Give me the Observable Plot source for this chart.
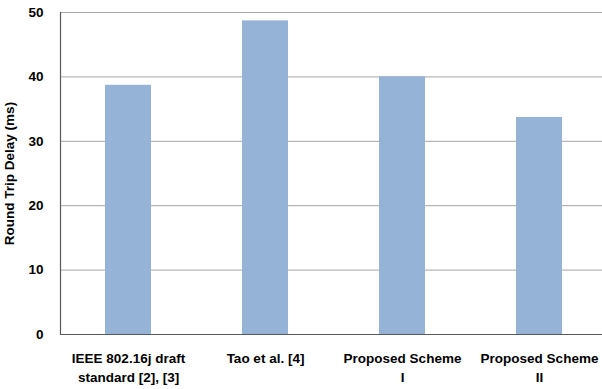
<!DOCTYPE html>
<html>
<head>
<meta charset="utf-8">
<script src="https://cdn.jsdelivr.net/npm/d3@7"></script>
<script src="https://cdn.jsdelivr.net/npm/@observablehq/plot@0.6"></script>
<style>
  html, body { margin: 0; padding: 0; background: #fff; }
</style>
</head>
<body>
<div id="chart"></div>
<script>
const categories = ["IEEE 802.16j draft\nstandard [2], [3]", "Tao et al. [4]", "Proposed Scheme\nI", "Proposed Scheme\nII"];
const delays = [38.7, 48.7, 40.0, 33.7];
const yTicks = [0, 10, 20, 30, 40, 50];
const gridTicks = [10, 20, 30, 40, 50];
const yTitle = "Round Trip Delay (ms)";

const data = categories.map((c, i) => ({category: c, delay: delays[i]}));

const chart = Plot.plot({
  width: 602,
  height: 389,
  marginTop: 12,
  marginBottom: 55,
  marginLeft: 60,
  marginRight: 0,
  style: {fontFamily: "'Liberation Sans', Arial, sans-serif", fontSize: "13.5px", fontWeight: "bold", color: "#000", background: "#fff"},
  x: {domain: categories, range: [60, 608], paddingInner: 0.664, paddingOuter: 0.332, label: null},
  y: {domain: [0, 50], label: null},
  marks: [
    Plot.ruleY(gridTicks, {stroke: "#A6A6A6", strokeWidth: 1}),
    Plot.barY(data, {x: "category", y: "delay", fill: "#95B3D7"}),
    Plot.ruleY([0], {stroke: "#595959", strokeWidth: 1.2}),
    Plot.frame({anchor: "left", stroke: "#595959", strokeWidth: 1.2}),
    Plot.axisY({ticks: yTicks, tickSize: 0, tickPadding: 17, label: null, fontWeight: "bold"}),
    Plot.axisX({tickSize: 0, tickPadding: 15, label: null, lineHeight: 1.4, fontWeight: "bold"}),
    Plot.text([yTitle], {frameAnchor: "left", dx: -51, dy: 0, rotate: -90, textAnchor: "middle", lineAnchor: "middle", fontWeight: "bold"})
  ]
});
document.getElementById("chart").appendChild(chart);
</script>
</body>
</html>
